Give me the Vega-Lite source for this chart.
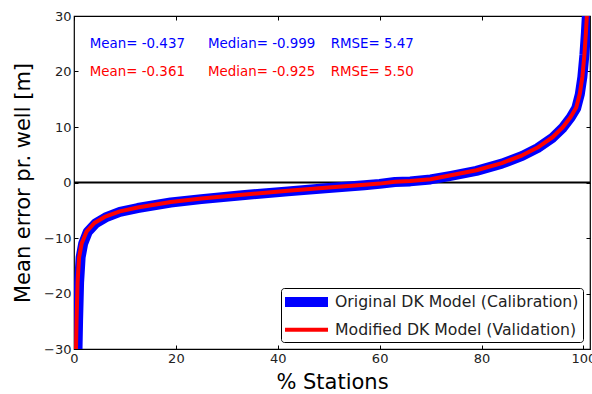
{
  "$schema": "https://vega.github.io/schema/vega-lite/v6.json",
  "width": 516,
  "height": 333,
  "autosize": {"type": "none"},
  "padding": {"left": 74, "top": 16, "right": 2, "bottom": 45},
  "background": "white",
  "config": {
    "font": "DejaVu Sans",
    "view": {"stroke": "black", "strokeWidth": 1.2},
    "axis": {
      "domain": false,
      "grid": false,
      "labelFlush": false,
      "labelOverlap": false,
      "tickColor": "black",
      "tickSize": -4,
      "tickWidth": 1,
      "labelColor": "#222222",
      "labelFont": "DejaVu Sans",
      "labelFontSize": 13,
      "titleFont": "DejaVu Sans",
      "titleFontSize": 21,
      "titleFontWeight": "normal",
      "titleColor": "black"
    }
  },
  "resolve": {"axis": {"x": "independent", "y": "independent"}},
  "datasets": {
    "curves": [
      {"model": "Original DK Model (Calibration)", "x": 0.6, "y": -34},
      {"model": "Original DK Model (Calibration)", "x": 0.8, "y": -25},
      {"model": "Original DK Model (Calibration)", "x": 1.0, "y": -18},
      {"model": "Original DK Model (Calibration)", "x": 1.3, "y": -13.5},
      {"model": "Original DK Model (Calibration)", "x": 1.8, "y": -11},
      {"model": "Original DK Model (Calibration)", "x": 2.7, "y": -8.9},
      {"model": "Original DK Model (Calibration)", "x": 4.2, "y": -7.4},
      {"model": "Original DK Model (Calibration)", "x": 6.2, "y": -6.3},
      {"model": "Original DK Model (Calibration)", "x": 9, "y": -5.3},
      {"model": "Original DK Model (Calibration)", "x": 12.5, "y": -4.6},
      {"model": "Original DK Model (Calibration)", "x": 19, "y": -3.6},
      {"model": "Original DK Model (Calibration)", "x": 25, "y": -3.0},
      {"model": "Original DK Model (Calibration)", "x": 33, "y": -2.3},
      {"model": "Original DK Model (Calibration)", "x": 42, "y": -1.6},
      {"model": "Original DK Model (Calibration)", "x": 50, "y": -1.0},
      {"model": "Original DK Model (Calibration)", "x": 57, "y": -0.5},
      {"model": "Original DK Model (Calibration)", "x": 60, "y": -0.25},
      {"model": "Original DK Model (Calibration)", "x": 63, "y": 0.1},
      {"model": "Original DK Model (Calibration)", "x": 66, "y": 0.2},
      {"model": "Original DK Model (Calibration)", "x": 70, "y": 0.55},
      {"model": "Original DK Model (Calibration)", "x": 74, "y": 1.2},
      {"model": "Original DK Model (Calibration)", "x": 79, "y": 2.1},
      {"model": "Original DK Model (Calibration)", "x": 84, "y": 3.4},
      {"model": "Original DK Model (Calibration)", "x": 88, "y": 4.8},
      {"model": "Original DK Model (Calibration)", "x": 91, "y": 6.2},
      {"model": "Original DK Model (Calibration)", "x": 94, "y": 8.1},
      {"model": "Original DK Model (Calibration)", "x": 96, "y": 9.9},
      {"model": "Original DK Model (Calibration)", "x": 97.5, "y": 11.7},
      {"model": "Original DK Model (Calibration)", "x": 98.6, "y": 13.4},
      {"model": "Original DK Model (Calibration)", "x": 99.3, "y": 15.9},
      {"model": "Original DK Model (Calibration)", "x": 99.8, "y": 19},
      {"model": "Original DK Model (Calibration)", "x": 100.2, "y": 23},
      {"model": "Original DK Model (Calibration)", "x": 100.5, "y": 27},
      {"model": "Original DK Model (Calibration)", "x": 100.8, "y": 32},
      {"model": "Modified DK Model (Validation)", "x": 0.3, "y": -34},
      {"model": "Modified DK Model (Validation)", "x": 0.5, "y": -25},
      {"model": "Modified DK Model (Validation)", "x": 0.7, "y": -18},
      {"model": "Modified DK Model (Validation)", "x": 1.0, "y": -13.5},
      {"model": "Modified DK Model (Validation)", "x": 1.5, "y": -11},
      {"model": "Modified DK Model (Validation)", "x": 2.5, "y": -8.8},
      {"model": "Modified DK Model (Validation)", "x": 4, "y": -7.3},
      {"model": "Modified DK Model (Validation)", "x": 6, "y": -6.2},
      {"model": "Modified DK Model (Validation)", "x": 9, "y": -5.2},
      {"model": "Modified DK Model (Validation)", "x": 12.5, "y": -4.5},
      {"model": "Modified DK Model (Validation)", "x": 19, "y": -3.5},
      {"model": "Modified DK Model (Validation)", "x": 25, "y": -2.9},
      {"model": "Modified DK Model (Validation)", "x": 33, "y": -2.2},
      {"model": "Modified DK Model (Validation)", "x": 42, "y": -1.5},
      {"model": "Modified DK Model (Validation)", "x": 50, "y": -0.9},
      {"model": "Modified DK Model (Validation)", "x": 57, "y": -0.4},
      {"model": "Modified DK Model (Validation)", "x": 60, "y": -0.2},
      {"model": "Modified DK Model (Validation)", "x": 63, "y": 0.15},
      {"model": "Modified DK Model (Validation)", "x": 66, "y": 0.25},
      {"model": "Modified DK Model (Validation)", "x": 70, "y": 0.6},
      {"model": "Modified DK Model (Validation)", "x": 74, "y": 1.3},
      {"model": "Modified DK Model (Validation)", "x": 79, "y": 2.2},
      {"model": "Modified DK Model (Validation)", "x": 84, "y": 3.5},
      {"model": "Modified DK Model (Validation)", "x": 88, "y": 4.9},
      {"model": "Modified DK Model (Validation)", "x": 91, "y": 6.3},
      {"model": "Modified DK Model (Validation)", "x": 94, "y": 8.2},
      {"model": "Modified DK Model (Validation)", "x": 96, "y": 10},
      {"model": "Modified DK Model (Validation)", "x": 97.5, "y": 11.8},
      {"model": "Modified DK Model (Validation)", "x": 98.6, "y": 13.5},
      {"model": "Modified DK Model (Validation)", "x": 99.3, "y": 16},
      {"model": "Modified DK Model (Validation)", "x": 99.8, "y": 19},
      {"model": "Modified DK Model (Validation)", "x": 100.2, "y": 23},
      {"model": "Modified DK Model (Validation)", "x": 100.5, "y": 27},
      {"model": "Modified DK Model (Validation)", "x": 100.8, "y": 32}
    ],
    "stats": [
      {"model": "Original DK Model (Calibration)", "x": 3.1, "y": 25, "label": "Mean= -0.437"},
      {"model": "Original DK Model (Calibration)", "x": 26.3, "y": 25, "label": "Median= -0.999"},
      {"model": "Original DK Model (Calibration)", "x": 50.4, "y": 25, "label": "RMSE= 5.47"},
      {"model": "Modified DK Model (Validation)", "x": 3.1, "y": 20, "label": "Mean= -0.361"},
      {"model": "Modified DK Model (Validation)", "x": 26.3, "y": 20, "label": "Median= -0.925"},
      {"model": "Modified DK Model (Validation)", "x": 50.4, "y": 20, "label": "RMSE= 5.50"}
    ],
    "zero": [{"y": 0}]
  },
  "layer": [
    {
      "data": {"name": "zero"},
      "mark": {"type": "rule", "color": "black", "strokeWidth": 2},
      "encoding": {
        "y": {"field": "y", "type": "quantitative", "scale": {"domain": [-30, 30], "nice": false},
              "axis": {"orient": "right", "labels": false, "title": null, "values": [-30, -20, -10, 0, 10, 20, 30]}}
      }
    },
    {
      "data": {"name": "curves"},
      "transform": [{"filter": "datum.model === 'Original DK Model (Calibration)'"}],
      "mark": {"type": "line", "clip": true, "strokeCap": "butt", "strokeJoin": "round"},
      "encoding": {
        "x": {"field": "x", "type": "quantitative", "scale": {"domain": [0, 101.3], "nice": false},
              "axis": {"orient": "bottom", "title": "% Stations", "values": [0, 20, 40, 60, 80, 100], "labelPadding": 7, "titlePadding": 6}},
        "y": {"field": "y", "type": "quantitative",
              "axis": {"orient": "left", "title": "Mean error pr. well [m]", "values": [-30, -20, -10, 0, 10, 20, 30], "labelPadding": 7, "titlePadding": 10}},
        "order": {"field": "x"},
        "color": {"field": "model", "type": "nominal",
                  "scale": {"domain": ["Original DK Model (Calibration)", "Modified DK Model (Validation)"], "range": ["#0000ff", "#ff0000"]},
                  "legend": {"title": null, "orient": "bottom-right", "offset": 7, "fillColor": "white", "strokeColor": "black",
                             "cornerRadius": 3, "padding": 4, "labelFontSize": 15.7, "labelFont": "DejaVu Sans", "labelColor": "#222222", "labelLimit": 400,
                             "symbolType": "M-2,0L6.6,0", "symbolSize": 100, "rowPadding": -1, "labelOffset": 30}},
        "strokeWidth": {"field": "model", "type": "nominal",
                        "scale": {"domain": ["Original DK Model (Calibration)", "Modified DK Model (Validation)"], "range": [10, 4]},
                        "legend": {"title": null, "orient": "bottom-right", "offset": 7, "fillColor": "white", "strokeColor": "black",
                             "cornerRadius": 3, "padding": 4, "labelFontSize": 15.7, "labelFont": "DejaVu Sans", "labelColor": "#222222", "labelLimit": 400,
                             "symbolType": "M-2,0L6.6,0", "symbolSize": 100, "rowPadding": -1, "labelOffset": 30}}
      }
    },
    {
      "data": {"name": "curves"},
      "transform": [{"filter": "datum.model === 'Modified DK Model (Validation)'"}],
      "mark": {"type": "line", "clip": true, "strokeCap": "butt", "strokeJoin": "round"},
      "encoding": {
        "x": {"field": "x", "type": "quantitative", "axis": null},
        "y": {"field": "y", "type": "quantitative", "axis": null},
        "order": {"field": "x"},
        "color": {"field": "model", "type": "nominal"},
        "strokeWidth": {"field": "model", "type": "nominal"}
      }
    },
    {
      "data": {"name": "stats"},
      "mark": {"type": "text", "align": "left", "baseline": "middle", "fontSize": 13.4, "font": "DejaVu Sans"},
      "encoding": {
        "x": {"field": "x", "type": "quantitative", "axis": {"orient": "top", "labels": false, "title": null, "values": [0, 20, 40, 60, 80, 100]}},
        "y": {"field": "y", "type": "quantitative", "axis": null},
        "text": {"field": "label"},
        "color": {"field": "model", "type": "nominal", "legend": null}
      }
    }
  ]
}
